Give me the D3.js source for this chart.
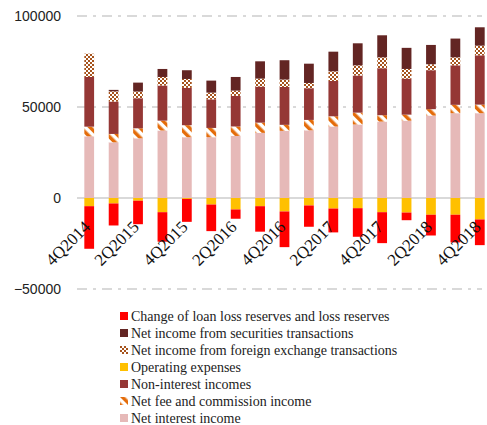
<!DOCTYPE html>
<html>
  <head>
    <meta charset="utf-8">
    <title>Bank income components</title>
    <script src="https://d3js.org/d3.v7.min.js"></script>
    <style>
      body { margin: 0; background: #fff; }
      .ytick { font-family: "Liberation Sans", Arial, sans-serif; font-size: 14px; fill: #222; }
      .xtick { font-family: "Liberation Serif", "DejaVu Serif", serif; font-size: 17px; fill: #111; }
      .legend text { font-family: "Liberation Serif", "DejaVu Serif", serif; font-size: 14px; fill: #222; }
    </style>
  </head>
  <body>
    <svg id="chart" width="487" height="425"></svg>
    <script>
      // quarters
      var quarters = ["4Q2014", "1Q2015", "2Q2015", "3Q2015", "4Q2015", "1Q2016", "2Q2016", "3Q2016",
        "4Q2016", "1Q2017", "2Q2017", "3Q2017", "4Q2017", "1Q2018", "2Q2018", "3Q2018", "4Q2018"];
      var shownLabels = ["4Q2014", "2Q2015", "4Q2015", "2Q2016", "4Q2016", "2Q2017", "4Q2017", "2Q2018", "4Q2018"];
      var yTicks = [-50000, 0, 50000, 100000];

      // positive parts, bottom to top
      var netInterest = [33900, 30600, 32800, 37100, 33400, 33400, 34100, 35800, 36900, 37200, 39300, 40400, 42000, 42500, 45300, 46600, 46600];
      var netFee = [5300, 4600, 5500, 5400, 6600, 5100, 5200, 5600, 3300, 5700, 5600, 6500, 3500, 3300, 3500, 4600, 4700];
      var nonInterest = [27300, 17800, 16500, 19300, 20500, 15700, 16800, 19800, 20800, 17400, 19400, 20400, 25800, 19800, 21400, 21700, 27100];
      var fxIncome = [12800, 5600, 3700, 4700, 4900, 3700, 2900, 4400, 4100, 2900, 5300, 5600, 6000, 5300, 3300, 4400, 5300];
      var securities = [0, 800, 4900, 4400, 4800, 6600, 7500, 9500, 10600, 10600, 10800, 12100, 12100, 11600, 10600, 10300, 10100];
      // negative parts, top to bottom
      var opExpenses = [4500, 3000, 1500, 7800, 500, 3600, 6300, 4500, 7400, 4100, 5800, 5600, 7800, 8000, 9200, 9200, 11800];
      var loanLoss = [23400, 12100, 12900, 16200, 12600, 14600, 5100, 14000, 19600, 11700, 13100, 15700, 17000, 4200, 11400, 15200, 14100];

      var posSeries = [
        { name: "Net interest income", values: netInterest, fill: "#e6b9b8" },
        { name: "Net fee and commission income", values: netFee, fill: "url(#feeHatch)" },
        { name: "Non-interest incomes", values: nonInterest, fill: "#953735" },
        { name: "Net income from foreign exchange transactions", values: fxIncome, fill: "url(#fxChecker)" },
        { name: "Net income from securities transactions", values: securities, fill: "#632523" }
      ];
      var negSeries = [
        { name: "Operating expenses", values: opExpenses, fill: "#ffc000" },
        { name: "Change of loan loss reserves and loss reserves", values: loanLoss, fill: "#ff0000" }
      ];
      var legendOrder = [
        "Change of loan loss reserves and loss reserves",
        "Net income from securities transactions",
        "Net income from foreign exchange transactions",
        "Operating expenses",
        "Non-interest incomes",
        "Net fee and commission income",
        "Net interest income"
      ];

      var svg = d3.select("#chart");
      var defs = svg.append("defs");

      // hatch for fee income
      var hatch = defs.append("pattern")
        .attr("id", "feeHatch")
        .attr("patternUnits", "userSpaceOnUse")
        .attr("width", 7).attr("height", 7)
        .attr("patternTransform", "rotate(-45)");
      hatch.append("rect").attr("width", 7).attr("height", 7).attr("fill", "#fff");
      hatch.append("rect").attr("width", 3.5).attr("height", 7).attr("fill", "#e46c0a");

      // checker for fx income
      var checker = defs.append("pattern")
        .attr("id", "fxChecker")
        .attr("patternUnits", "userSpaceOnUse")
        .attr("width", 4).attr("height", 4);
      checker.append("rect").attr("width", 4).attr("height", 4).attr("fill", "#fff");
      checker.append("rect").attr("width", 2).attr("height", 2).attr("fill", "#a6531c");
      checker.append("rect").attr("x", 2).attr("y", 2).attr("width", 2).attr("height", 2).attr("fill", "#a6531c");

      var x = d3.scaleBand()
        .domain(quarters)
        .range([77, 492])
        .paddingInner(0.6)
        .paddingOuter(0.3);
      var y = d3.scaleLinear()
        .domain([-50000, 100000])
        .range([289, 16]);

      // grid lines
      var grid = svg.append("g");
      grid.selectAll("line")
        .data(yTicks)
        .enter()
        .append("line")
          .attr("x1", 77)
          .attr("x2", 482)
          .attr("y1", function(d) { return y(d); })
          .attr("y2", function(d) { return y(d); })
          .attr("stroke", "#d9d9d9")
          .attr("stroke-width", 2)
          .attr("stroke-dasharray", function(d) { return d == 0 ? null : "10,6,3,6"; });

      // y labels
      var yAxis = d3.axisLeft(y)
        .tickValues(yTicks)
        .tickSize(0)
        .tickPadding(0)
        .tickFormat(d3.format("d"));
      var yAxisGroup = svg.append("g")
        .attr("transform", "translate(61, 0)")
        .call(yAxis);
      yAxisGroup.select(".domain").remove();
      yAxisGroup.selectAll("text")
        .attr("class", "ytick")
        .attr("font-family", null)
        .attr("font-size", null);

      // stacked bars
      var bars = svg.append("g");
      var posStack = d3.stack().keys(d3.range(posSeries.length))
        .value(function(i, k) { return posSeries[k].values[i]; })(d3.range(quarters.length));
      var negStack = d3.stack().keys(d3.range(negSeries.length))
        .value(function(i, k) { return -negSeries[k].values[i]; })
        .offset(d3.stackOffsetDiverging)(d3.range(quarters.length));

      function drawLayers(stacked, series) {
        bars.selectAll(null)
          .data(stacked)
          .enter()
          .append("g")
            .attr("fill", function(d) { return series[d.key].fill; })
          .selectAll("rect")
          .data(function(d) { return d; })
          .enter()
          .append("rect")
            .attr("x", function(d) { return x(quarters[d.data]); })
            .attr("width", x.bandwidth())
            .attr("y", function(d) { return y(Math.max(d[0], d[1])); })
            .attr("height", function(d) { return Math.abs(y(d[0]) - y(d[1])); });
      }
      drawLayers(posStack, posSeries);
      drawLayers(negStack, negSeries);

      // x labels
      var xAxisGroup = svg.append("g")
        .attr("transform", "translate(0, " + y(0) + ")")
        .call(d3.axisBottom(x).tickValues(shownLabels).tickSize(0));
      xAxisGroup.select(".domain").remove();
      xAxisGroup.selectAll("text")
        .attr("class", "xtick")
        .attr("font-family", null)
        .attr("font-size", null)
        .attr("text-anchor", "end")
        .attr("x", 0).attr("y", 0).attr("dy", 0)
        .attr("transform", "translate(2, 30) rotate(-45)");

      // legend
      var allSeries = posSeries.concat(negSeries);
      var legend = svg.append("g")
        .attr("class", "legend")
        .attr("transform", "translate(120, 312)");
      var items = legend.selectAll("g")
        .data(legendOrder)
        .enter()
        .append("g")
          .attr("transform", function(d, i) { return "translate(0, " + (i * 17) + ")"; });
      items.append("rect")
        .attr("width", 8)
        .attr("height", 8)
        .attr("fill", function(d) { return allSeries.find(function(s) { return s.name == d; }).fill; });
      items.append("text")
        .attr("x", 11)
        .attr("y", 8.5)
        .text(function(d) { return d; });
    </script>
  </body>
</html>
